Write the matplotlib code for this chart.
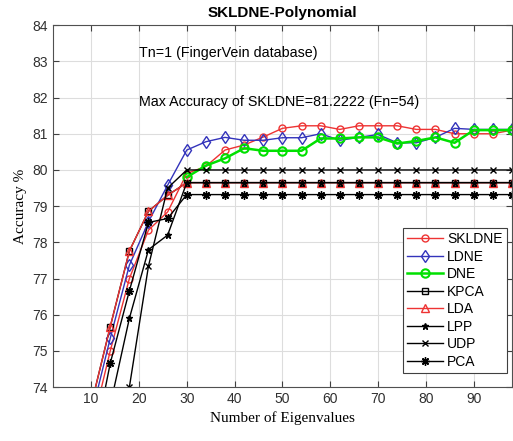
import matplotlib.pyplot as plt
import numpy as np

# number of eigenvalues
fn = [10, 14, 18, 22, 26, 30, 34, 38, 42, 46, 50, 54, 58, 62, 66, 70, 74, 78, 82, 86, 90, 94, 98]

skldne = [72.8, 75.0, 77.0, 78.34, 78.84, 79.9, 80.1, 80.55, 80.69, 80.91, 81.15, 81.22,
          81.22, 81.12, 81.22, 81.22, 81.22, 81.12, 81.12, 81.0, 81.0, 81.0, 81.1]
ldne = [73.2, 75.35, 77.37, 78.57, 79.58, 80.55, 80.78, 80.9, 80.82, 80.82, 80.89, 80.89,
        81.0, 80.82, 80.9, 80.98, 80.75, 80.75, 80.9, 81.15, 81.12, 81.12, 81.12]
dne = [np.nan] * 5 + [79.8, 80.12, 80.32, 80.6, 80.53, 80.53, 80.53,
                      80.87, 80.87, 80.9, 80.9, 80.73, 80.8, 80.9, 80.75, 81.1, 81.1, 81.1]
kpca = [73.5, 75.67, 77.76, 78.86, 79.3] + [79.65] * 18
lda = [73.5, 75.67, 77.76, 78.86, 79.3] + [79.65] * 18
lpp = [71.0, 73.5, 75.9, 77.8, 78.2] + [79.65] * 18
udp = [70.0, 72.0, 74.0, 77.35, 79.5] + [80.0] * 18
pca = [72.0, 74.66, 76.66, 78.55, 78.66] + [79.32] * 18

plt.rcParams['font.family'] = ['Liberation Sans', 'DejaVu Sans']
fig = plt.figure(figsize=(5.13, 4.41), dpi=100)
ax = fig.add_axes([0.103, 0.122, 0.895, 0.821])

red, blue, green = '#ee3333', '#3333bb', '#00e000'
ax.plot(fn, skldne, '-o', color=red, mfc='none', ms=5, lw=1, label='SKLDNE')
ax.plot(fn, ldne, '-d', color=blue, mfc='none', ms=6, lw=1, label='LDNE')
ax.plot(fn, dne, '-o', color=green, mfc='none', ms=6, mew=1.5, lw=1.8, label='DNE')
ax.plot(fn, kpca, '-s', color='k', mfc='none', ms=5, lw=1, label='KPCA')
ax.plot(fn, lda, '-^', color=red, mfc='none', ms=6, lw=1, label='LDA')
ax.plot(fn, lpp, '-*', color='k', ms=5, lw=1, label='LPP')
ax.plot(fn, udp, '-x', color='k', ms=5, lw=1, label='UDP')
ax.plot(fn, pca, '-', marker=(8, 2, 0), color='k', ms=6, lw=1, label='PCA')

ax.set_xlim(2, 98)
ax.set_ylim(74, 84)
ax.set_xticks(range(10, 100, 10))
ax.set_yticks(range(74, 85))
ax.grid(True, color='#dddddd', lw=0.8)
ax.tick_params(direction='in', top=True, right=True, labelsize=10, colors='#404040',
               labelcolor='#303030', length=4)
for s in ax.spines.values():
    s.set_color('#505050')

ax.set_title('SKLDNE-Polynomial', fontsize=11, fontweight='bold')
ax.set_xlabel('Number of Eigenvalues', family='Liberation Serif', fontsize=11)
ax.set_ylabel('Accuracy %', family='Liberation Serif', fontsize=11)
ax.text(20, 83.23, 'Tn=1 (FingerVein database)', fontsize=10.3, va='center')
ax.text(20, 81.88, 'Max Accuracy of SKLDNE=81.2222 (Fn=54)', fontsize=10.3, va='center')

leg = ax.legend(loc='lower left', bbox_to_anchor=(0.762, 0.04), fontsize=10, fancybox=False,
                edgecolor='#404040', framealpha=1, handlelength=2.6, borderpad=0.3,
                labelspacing=0.25, handletextpad=0.3, borderaxespad=0)
leg.get_frame().set_linewidth(0.8)

fig.savefig('out.png', dpi=100)
